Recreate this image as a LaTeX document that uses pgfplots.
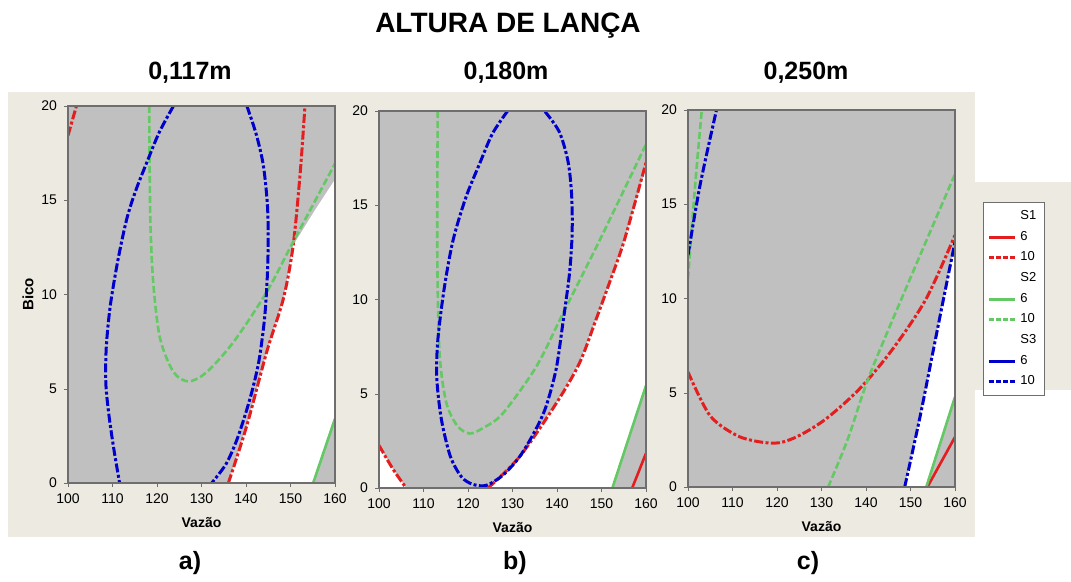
\documentclass[border=0pt]{standalone}
\usepackage{fontspec}
\setmainfont{Liberation Sans}
\usepackage{pgfplots}
\pgfplotsset{compat=1.18}

\definecolor{bege}{RGB}{237,234,225}
\definecolor{cinza}{RGB}{192,192,192}
\definecolor{vermelho}{RGB}{228,30,30}
\definecolor{verde}{RGB}{100,200,100}
\definecolor{azul}{RGB}{0,0,205}
\definecolor{moldura}{RGB}{110,110,110}

\pgfplotsset{
  painel/.style={
    anchor=south west, scale only axis, width=133.5pt, height=188.5pt,
    xmin=100, xmax=160, ymin=0, ymax=20,
    xtick={100,110,...,160}, ytick={0,5,...,20},
    axis background/.style={fill=cinza},
    axis line style={moldura, line width=0.6pt},
    tick align=outside, tick pos=left, major tick length=2pt,
    tick style={moldura},
    tick label style={font=\fontsize{7}{8}\selectfont},
    /pgf/number format/assume math mode=true,
    xlabel={Vazão},
    xlabel style={font=\bfseries\fontsize{7}{8}\selectfont, at={(axis description cs:0.5,-0.105)}, anchor=center},
    axis on top,
  },
  area/.style={fill=white, draw=none, forget plot},
  s6/.style={line width=1.3pt, forget plot},
  s10/.style={line width=1.5pt, smooth, dash pattern=on 4.5pt off 1.2pt on 1.5pt off 1.2pt, forget plot},
  v10/.style={line width=1.3pt, smooth, dash pattern=on 3.5pt off 1.5pt, forget plot},
}

\begin{document}
\begin{tikzpicture}
\useasboundingbox (0,0) rectangle (535.5pt,-291pt);
\fill[bege] (4pt,-46pt) rectangle (487.5pt,-268.5pt);
\fill[bege] (487pt,-91pt) rectangle (535.5pt,-195pt);

% a) 0,117m
\begin{axis}[painel, at={(34pt,-241.5pt)},
  ylabel={Bico},
  ylabel style={font=\bfseries\fontsize{7.5}{8}\selectfont, at={(axis description cs:-0.15,0.5)}, anchor=center}]
\addplot[area] coordinates {(136.05,0) (140.2,3.06) (144.65,6.95) (148.4,9.78) (150.6,12.6) (155.3,14.4) (160,16.1) (160,3.41) (155.1,0)};
\addplot[s10, vermelho] coordinates {(136.05,0) (140.2,3.06) (144.65,6.95) (148.4,9.78) (150.6,12.6) (152.2,16.5) (153.25,20)};
\addplot[s10, vermelho] coordinates {(100,18.44) (101.9,20)};
\addplot[v10, verde] coordinates {(118.25,20) (118.5,14.0) (119.2,10.5) (120.7,7.66) (123.7,5.89) (127.1,5.39) (131.2,5.89) (137.2,7.48) (144.65,10.13) (150.6,12.79) (160,16.94)};
\addplot[s6, verde] coordinates {(155.1,0) (160,3.41)};
\addplot[s10, azul] coordinates {(123.7,20) (120.5,18.6) (117.7,17.0) (115.2,15.5) (113.2,14.0) (111.2,11.8) (109.5,9.4) (108.6,7.2) (108.5,5.3) (109.2,3.6) (110.3,1.8) (111.6,0)};
\addplot[s10, azul] coordinates {(140.2,20) (142.3,18.5) (143.9,16.85) (144.8,14.8) (145.0,13.0) (144.8,11.0) (144.2,8.8) (143.0,6.6) (141.5,5.0) (139.8,3.6) (137.8,2.2) (135.5,1.0) (132.3,0)};
\end{axis}

% b) 0,180m
\begin{axis}[painel, at={(189.5pt,-244pt)}]
\addplot[area] coordinates {(100,0) (100,2.26) (103.1,1.02) (106.1,0)};
\addplot[area] coordinates {(124.5,0) (131.6,1.66) (139.8,4.48) (145.0,6.6) (148.7,8.89) (151.7,10.83) (155.1,13.12) (160,17.0) (160,5.36) (152.45,0)};
\addplot[s10, vermelho] coordinates {(100,2.26) (103.1,1.02) (106.1,0)};
\addplot[s10, vermelho] coordinates {(124.5,0) (131.6,1.66) (139.8,4.48) (145.0,6.6) (148.7,8.89) (151.7,10.83) (155.1,13.12) (160,17.26)};
\addplot[s6, vermelho] coordinates {(156.9,0) (160,1.84)};
\addplot[v10, verde] coordinates {(113.2,20) (113.1,12.5) (113.6,7.2) (115.1,4.55) (117.6,3.3) (120.4,2.89) (123.5,3.2) (127.8,3.95) (135.3,6.42) (141.3,9.24) (149.5,13.1) (160,18.23)};
\addplot[s6, verde] coordinates {(152.45,0) (160,5.43)};
\addplot[s10, azul] coordinates {(128.9,20) (125.5,18.8) (122.6,17.2) (119.5,15.4) (116.6,13.1) (114.6,10.5) (113.2,7.8) (113.0,5.8) (114.0,3.67) (116.0,1.7) (118.5,0.6) (121.0,0.2) (124.1,0.14) (127.8,0.67) (131.6,1.66) (135.0,3.0) (137.5,4.3) (139.8,6.3) (141.3,8.71) (142.8,11.36) (143.4,13.5) (143.3,15.5) (142.5,17.3) (140.5,18.9) (137.2,20)};
\end{axis}

% c) 0,250m
\begin{axis}[painel, at={(344pt,-243.5pt)},
  legend style={at={(1.105,0.756)}, anchor=north west, draw=moldura, fill=white,
    font=\fontsize{6.5}{7}\selectfont, row sep=0.3pt, inner sep=2pt},
  legend cell align=left,
  legend image code/.code={\draw[#1] (0pt,0pt) -- (13pt,0pt);}]
\addplot[area] coordinates {(148.7,0) (152.06,3.63) (155.05,7.17) (158.04,10.71) (160,13.0) (160,4.78) (153.55,0)};
\addplot[s10, vermelho] coordinates {(100,6.1) (104.9,3.8) (110.9,2.74) (116.2,2.39) (120.6,2.35) (125.1,2.74) (131.1,3.63) (138.6,5.22) (146.1,7.35) (153.55,10.0) (160,13.36)};
\addplot[s6, vermelho] coordinates {(153.8,0) (160,2.65)};
\addplot[v10, verde] coordinates {(100,11.06) (101.6,16.0) (103.1,20)};
\addplot[v10, verde] coordinates {(131.5,0) (136.0,2.6) (140.8,5.93) (150.0,11.1) (160,16.6)};
\addplot[s6, verde] coordinates {(153.55,0) (160,4.78)};
\addplot[s10, azul] coordinates {(100,12.3) (102.7,16.0) (106.4,20)};
\addplot[s10, azul] coordinates {(148.7,0) (152.06,3.63) (155.05,7.17) (158.04,10.71) (160,13.0)};
\addlegendimage{empty legend}\addlegendentry{S1}
\addlegendimage{vermelho, line width=1.5pt}\addlegendentry{6}
\addlegendimage{vermelho, line width=1.5pt, dash pattern=on 2.5pt off 1pt}\addlegendentry{10}
\addlegendimage{empty legend}\addlegendentry{S2}
\addlegendimage{verde, line width=1.5pt}\addlegendentry{6}
\addlegendimage{verde, line width=1.5pt, dash pattern=on 2.5pt off 1pt}\addlegendentry{10}
\addlegendimage{empty legend}\addlegendentry{S3}
\addlegendimage{azul, line width=1.5pt}\addlegendentry{6}
\addlegendimage{azul, line width=1.5pt, dash pattern=on 2.5pt off 1pt}\addlegendentry{10}
\end{axis}

\begin{scope}[x=0.5pt, y=-0.5pt]
\node[anchor=base, font=\bfseries\fontsize{14}{16}\selectfont] at (508,33) {ALTURA DE LANÇA};
\node[anchor=base, font=\bfseries\fontsize{12.5}{14}\selectfont] at (190,80) {0,117m};
\node[anchor=base, font=\bfseries\fontsize{12.5}{14}\selectfont] at (506,80) {0,180m};
\node[anchor=base, font=\bfseries\fontsize{12.5}{14}\selectfont] at (806,80) {0,250m};
\node[anchor=base, font=\bfseries\fontsize{12.5}{14}\selectfont] at (190,569) {a)};
\node[anchor=base, font=\bfseries\fontsize{12.5}{14}\selectfont] at (515,569) {b)};
\node[anchor=base, font=\bfseries\fontsize{12.5}{14}\selectfont] at (808,569) {c)};
\end{scope}
\end{tikzpicture}
\end{document}
